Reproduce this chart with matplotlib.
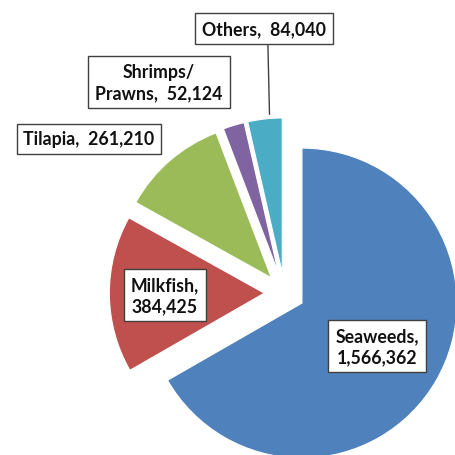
import matplotlib
matplotlib.use("Agg")
import matplotlib.pyplot as plt
import numpy as np

categories = ["Seaweeds", "Milkfish", "Tilapia", "Shrimps/\nPrawns", "Others"]
values = [1566362, 384425, 261210, 52124, 84040]
colors = ["#4F81BD", "#C0504D", "#9BBB59", "#8064A2", "#4BACC6"]
label_texts = ["Seaweeds,\n1,566,362", "Milkfish,\n384,425", "Tilapia,  261,210",
               "Shrimps/\nPrawns,  52,124", "Others,  84,040"]

# layout (pixels)
W, H = 455, 456
CX, CY, R = 284.5, 294.0, 155.0
label_px = [(377, 347), (165, 296), (89, 140), (159, 83), (264, 29.5)]

def px2d(px, py):
    return ((px - CX) / R, (CY - py) / R)

fig = plt.figure(figsize=(W / 100, H / 100), dpi=100)
ax = fig.add_axes([0, 0, 1, 1])
ax.axis("off")

explode = [0.13] * len(values)
wedges, _ = ax.pie(values, colors=colors, startangle=90, counterclock=False,
                   explode=explode, radius=1.0, center=(0, 0),
                   wedgeprops=dict(edgecolor="white", linewidth=0.8))
ax.set_xlim(-CX / R, (W - CX) / R)
ax.set_ylim(-(H - CY) / R, CY / R)
ax.set_aspect("auto")

fp = dict(family=["Lato", "DejaVu Sans"], weight="bold", size=12.8, color="#111111")
bbox = dict(boxstyle="square,pad=0.38", facecolor="white", edgecolor="#404040", linewidth=1.0)

for i, (txt, (px, py)) in enumerate(zip(label_texts, label_px)):
    x, y = px2d(px, py)
    if i == 4:
        w = wedges[i]
        mid = np.deg2rad((w.theta1 + w.theta2) / 2)
        cx, cy = w.center
        tx = cx + w.r * np.cos(mid) + 0.03
        ty = cy + w.r * np.sin(mid) + 0.03
        ax.annotate(txt, xy=(tx, ty), xytext=(x, y), ha="center", va="center",
                    bbox=bbox, linespacing=1.3, **fp,
                    arrowprops=dict(arrowstyle="-", color="#404040", lw=1.0,
                                    shrinkA=0, shrinkB=0, relpos=(0.53, 0)))
    else:
        ax.text(x, y, txt, ha="center", va="center", bbox=bbox,
                linespacing=1.3, **fp)

fig.savefig("out.png", dpi=100)
